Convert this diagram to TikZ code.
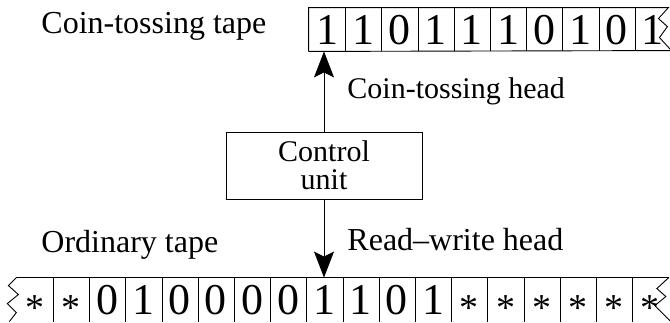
\documentclass[tikz,border=0pt]{standalone}
\usepackage{fontspec}
\setmainfont{Liberation Serif}
\usetikzlibrary{arrows.meta}
\usetikzlibrary{positioning,calc}

\newcommand{\tapestar}{{\fontsize{38}{38}\selectfont\raisebox{-6pt}{*}}}

\tikzset{
	cell/.style={minimum width=36.2pt,minimum height=43pt,inner sep=0pt,
		text height=30pt,text depth=0pt,font=\fontsize{44}{44}\selectfont},
	caption/.style={anchor=base west,inner sep=0pt,font=\fontsize{31}{34}\selectfont},
	headarrow/.style={-{Stealth[length=26pt,width=20pt,inset=5pt]}},
}

\begin{document}
\begin{tikzpicture}[x=1pt,y=-1pt,line width=0.9pt]
		\useasboundingbox (0,0) rectangle (670,322);

		% coin-tossing tape
		\foreach \d [count=\i] in {1,1,0,1,1,1,0,1,0,1}
			\node[cell] (t\i) at ({309+36.2*(\i-0.5)},29.5) {\d};
		\draw (t1.south west) -- (t1.north west) -- ($(t10.north east)+(-3,0)$)
			-- ++(-10,11) -- ++(9,8) -- ++(-8,11) -- ++(12,13) -- (t1.south west);
		\foreach \i in {1,...,9}
			\draw (t\i.north east) -- (t\i.south east);

		% ordinary tape
		\foreach \d [count=\i] in {\tapestar,\tapestar,0,1,0,0,0,0,1,1,0,1,\tapestar,\tapestar,\tapestar,\tapestar,\tapestar,\tapestar}
			\node[cell] (b\i) at ({16.8+36.2*(\i-0.5)},299.5) {\d};
		\draw (b1.north west) -- (b18.north east);
		\draw (b1.north west) -- ++(-8,8) -- ++(10,9) -- ++(-11,9) -- ++(9,9) -- ++(-7,9);
		\draw (b18.north east) -- ++(-12,11) -- ++(9,8) -- ++(-11,9) -- ++(16,16);
		\foreach \i in {1,...,17}
			\draw (b\i.north east) -- ++(0,44);

		% control unit and heads
		\node[draw,align=center,minimum width=196pt,minimum height=67pt,inner sep=0pt,
			font=\fontsize{30}{28}\selectfont] (ctrl) at (324,165.5) {Control\\unit};
		\draw[headarrow] (ctrl.north) -- (ctrl.north |- t1.south);
		\draw[headarrow] (ctrl.south) -- (ctrl.south |- b9.north);

		\node[caption,font=\fontsize{32}{34}\selectfont] (cttape) at (41,33) {Coin-tossing tape};
		\node[caption,font=\fontsize{30}{34}\selectfont] (cthead) at (347,98) {Coin-tossing head};
		\node[caption,font=\fontsize{32}{34}\selectfont] (ortape) at (41,252) {Ordinary tape};
		\node[caption,font=\fontsize{32}{34}\selectfont] (rwhead) at (347,250) {Read--write head};
\end{tikzpicture}
\end{document}
